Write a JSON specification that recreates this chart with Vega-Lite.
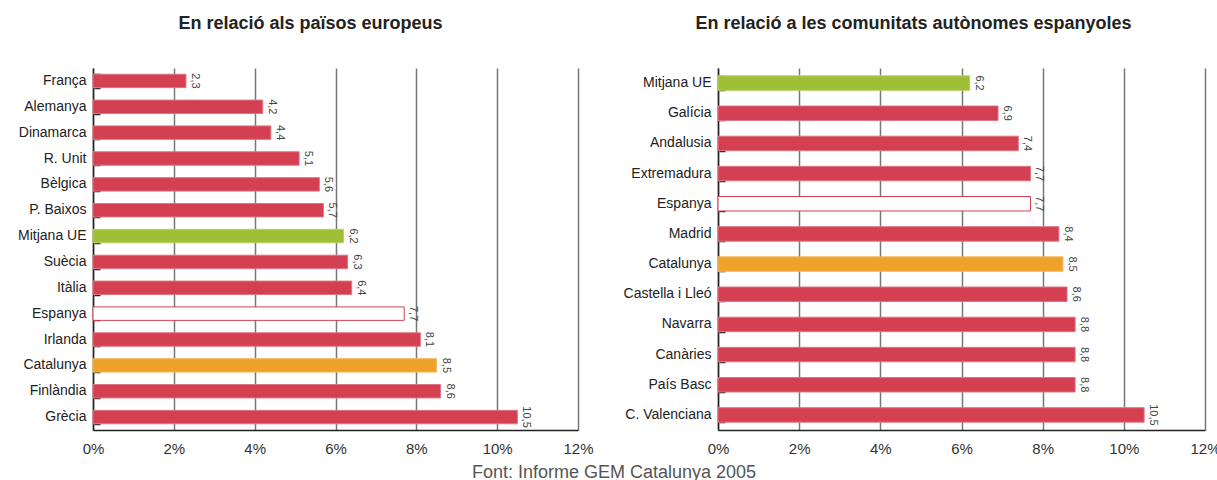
{
  "$schema": "https://vega.github.io/schema/vega-lite/v6.json",
  "padding": {"left": 0, "top": 15, "right": 0, "bottom": 0},
  "spacing": 4,
  "background": "white",
  "title": {"text": "Font: Informe GEM Catalunya 2005", "orient": "bottom", "anchor": "middle", "fontSize": 18, "fontWeight": "normal", "color": "#555", "offset": 8, "dx": 4, "font": "Liberation Sans"},
  "config": {
    "font": "Liberation Sans",
    "view": {"stroke": null},
    "title": {"fontSize": 18, "fontWeight": "bold", "color": "#222", "offset": 35, "anchor": "middle"},
    "axisX": {"domainColor": "#222", "domainWidth": 1.5, "gridColor": "#777", "gridWidth": 1.5, "ticks": false, "labelFlush": false, "labelPadding": 11, "labelFontSize": 15, "labelColor": "#333", "title": null},
    "axisY": {"domainColor": "#222", "domainWidth": 1.5, "ticks": false, "labelPadding": 7, "labelFontSize": 14, "labelColor": "#222", "title": null, "grid": false}
  },
  "datasets": {
    "europa": [
      {"pais": "França", "valor": 2.3, "tipus": "altre"},
      {"pais": "Alemanya", "valor": 4.2, "tipus": "altre"},
      {"pais": "Dinamarca", "valor": 4.4, "tipus": "altre"},
      {"pais": "R. Unit", "valor": 5.1, "tipus": "altre"},
      {"pais": "Bèlgica", "valor": 5.6, "tipus": "altre"},
      {"pais": "P. Baixos", "valor": 5.7, "tipus": "altre"},
      {"pais": "Mitjana UE", "valor": 6.2, "tipus": "UE"},
      {"pais": "Suècia", "valor": 6.3, "tipus": "altre"},
      {"pais": "Itàlia", "valor": 6.4, "tipus": "altre"},
      {"pais": "Espanya", "valor": 7.7, "tipus": "Espanya"},
      {"pais": "Irlanda", "valor": 8.1, "tipus": "altre"},
      {"pais": "Catalunya", "valor": 8.5, "tipus": "Catalunya"},
      {"pais": "Finlàndia", "valor": 8.6, "tipus": "altre"},
      {"pais": "Grècia", "valor": 10.5, "tipus": "altre"}
    ],
    "espanya": [
      {"pais": "Mitjana UE", "valor": 6.2, "tipus": "UE"},
      {"pais": "Galícia", "valor": 6.9, "tipus": "altre"},
      {"pais": "Andalusia", "valor": 7.4, "tipus": "altre"},
      {"pais": "Extremadura", "valor": 7.7, "tipus": "altre"},
      {"pais": "Espanya", "valor": 7.7, "tipus": "Espanya"},
      {"pais": "Madrid", "valor": 8.4, "tipus": "altre"},
      {"pais": "Catalunya", "valor": 8.5, "tipus": "Catalunya"},
      {"pais": "Castella i Lleó", "valor": 8.6, "tipus": "altre"},
      {"pais": "Navarra", "valor": 8.8, "tipus": "altre"},
      {"pais": "Canàries", "valor": 8.8, "tipus": "altre"},
      {"pais": "País Basc", "valor": 8.8, "tipus": "altre"},
      {"pais": "C. Valenciana", "valor": 10.5, "tipus": "altre"}
    ]
  },
  "hconcat": [
    {
      "title": {"text": "En relació als països europeus", "dx": -25},
      "width": 485,
      "height": 362,
      "data": {"name": "europa"},
      "transform": [{"calculate": "replace(format(datum.valor, '.1f'), '.', ',')", "as": "etiqueta"}],
      "encoding": {
        "x": {"field": "valor", "type": "quantitative", "scale": {"domain": [0, 12], "nice": false}, "axis": {"grid": true, "values": [0, 2, 4, 6, 8, 10, 12], "labelExpr": "datum.value + '%'"}}
      },
      "layer": [
        {"mark": {"type": "bar", "strokeWidth": 1},
         "encoding": {
           "y": {"field": "pais", "type": "nominal", "sort": null, "scale": {"paddingInner": 0.48, "paddingOuter": 0.24}, "axis": {"minExtent": 93, "maxExtent": 93}},
           "fill": {"field": "tipus", "type": "nominal", "legend": null, "scale": {"domain": ["altre", "UE", "Espanya", "Catalunya"], "range": ["#d43f51", "#9fbf36", "#ffffff", "#f0a12a"]}},
           "stroke": {"field": "tipus", "type": "nominal", "legend": null, "scale": {"domain": ["altre", "UE", "Espanya", "Catalunya"], "range": ["#e07582", "#b6cf66", "#d43f51", "#f4bb62"]}}
         }},
        {"mark": {"type": "text", "angle": 90, "align": "center", "baseline": "bottom", "dy": -4, "fontSize": 11, "color": "#444"},
         "encoding": {
           "y": {"field": "pais", "type": "nominal", "sort": null, "axis": {"orient": "left", "offset": -7, "labels": false, "domain": false, "ticks": true, "tickSize": 6, "tickWidth": 1.5, "tickColor": "#222", "tickBand": "extent", "tickExtra": true, "minExtent": 0, "maxExtent": 0}},
           "text": {"field": "etiqueta", "type": "nominal"}}}
      ],
      "resolve": {"axis": {"y": "independent"}}
    },
    {
      "title": {"text": "En relació a les comunitats autònomes espanyoles", "dx": -48},
      "width": 487,
      "height": 362,
      "data": {"name": "espanya"},
      "transform": [{"calculate": "replace(format(datum.valor, '.1f'), '.', ',')", "as": "etiqueta"}],
      "encoding": {
        "x": {"field": "valor", "type": "quantitative", "scale": {"domain": [0, 12], "nice": false}, "axis": {"grid": true, "values": [0, 2, 4, 6, 8, 10, 12], "labelExpr": "datum.value + '%'"}}
      },
      "layer": [
        {"mark": {"type": "bar", "strokeWidth": 1},
         "encoding": {
           "y": {"field": "pais", "type": "nominal", "sort": null, "scale": {"paddingInner": 0.52, "paddingOuter": 0.26}, "axis": {"minExtent": 120, "maxExtent": 120}},
           "fill": {"field": "tipus", "type": "nominal", "legend": null, "scale": {"domain": ["altre", "UE", "Espanya", "Catalunya"], "range": ["#d43f51", "#9fbf36", "#ffffff", "#f0a12a"]}},
           "stroke": {"field": "tipus", "type": "nominal", "legend": null, "scale": {"domain": ["altre", "UE", "Espanya", "Catalunya"], "range": ["#e07582", "#b6cf66", "#d43f51", "#f4bb62"]}}
         }},
        {"mark": {"type": "text", "angle": 90, "align": "center", "baseline": "bottom", "dy": -4, "fontSize": 11, "color": "#444"},
         "encoding": {
           "y": {"field": "pais", "type": "nominal", "sort": null, "axis": {"orient": "left", "offset": -7, "labels": false, "domain": false, "ticks": true, "tickSize": 6, "tickWidth": 1.5, "tickColor": "#222", "tickBand": "extent", "tickExtra": true, "minExtent": 0, "maxExtent": 0}},
           "text": {"field": "etiqueta", "type": "nominal"}}}
      ],
      "resolve": {"axis": {"y": "independent"}}
    }
  ]
}
